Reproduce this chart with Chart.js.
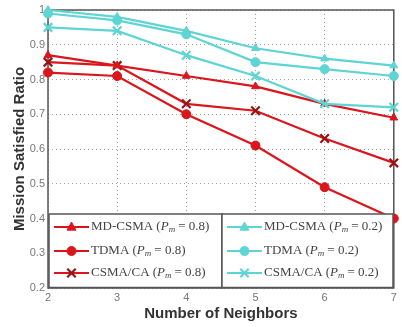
<!DOCTYPE html>
<html><head><meta charset="utf-8">
<script src="https://cdn.jsdelivr.net/npm/chart.js@4/dist/chart.umd.min.js"></script>
<style>html,body{margin:0;padding:0;background:#fff}#c{display:block}</style>
</head><body>
<canvas id="c" width="402" height="327"></canvas>
<script>
const neighbors = [2, 3, 4, 5, 6, 7];
const mdcsma08 = [0.87, 0.84, 0.81, 0.78, 0.73, 0.69];
const tdma08   = [0.82, 0.81, 0.70, 0.61, 0.49, 0.40];
const csma08   = [0.85, 0.84, 0.73, 0.71, 0.63, 0.56];
const mdcsma02 = [1.00, 0.98, 0.94, 0.89, 0.86, 0.84];
const tdma02   = [0.99, 0.97, 0.93, 0.85, 0.83, 0.81];
const csma02   = [0.95, 0.94, 0.87, 0.81, 0.73, 0.72];
const yTicks = [0.2, 0.3, 0.4, 0.5, 0.6, 0.7, 0.8, 0.9, 1];
const protocolNames = ['MD-CSMA', 'TDMA', 'CSMA/CA'];
const pmValues = ['0.8', '0.2'];

const RED = 'rgb(218,22,28)';
const CYAN = 'rgb(95,212,212)';
function ds(data, color, style, nameIdx, pmIdx) {
  return {
    label: protocolNames[nameIdx] + ' (Pm = ' + pmValues[pmIdx] + ')',
    protoName: protocolNames[nameIdx], pm: pmValues[pmIdx],
    data: neighbors.map((x, k) => ({x: x, y: data[k]})),
    borderColor: color, backgroundColor: color,
    borderWidth: 2.2, pointStyle: style, pointRadius: style === 'crossRot' ? 6 : 4.5,
    pointBorderWidth: style === 'crossRot' ? 2.2 : 1,
    pointBorderColor: style === 'crossRot' ? (pmIdx === 0 ? 'rgb(150,20,20)' : CYAN) : color,
    tension: 0, clip: false
  };
}
const datasets = [
  ds(mdcsma02, CYAN, 'triangle', 0, 1),
  ds(tdma02, CYAN, 'circle', 1, 1),
  ds(csma02, CYAN, 'crossRot', 2, 1),
  ds(mdcsma08, RED, 'triangle', 0, 0),
  ds(tdma08, RED, 'circle', 1, 0),
  ds(csma08, RED, 'crossRot', 2, 0)
];

const legendPlugin = {
  id: 'boxLegend',
  beforeDatasetsDraw(chart) {
    const ctx = chart.ctx, ca = chart.chartArea;
    ctx.save();
    ctx.strokeStyle = '#555'; ctx.lineWidth = 1.5;
    ctx.strokeRect(ca.left, ca.top, ca.right - ca.left, ca.bottom - ca.top);
    ctx.restore();
  },
  afterDatasetsDraw(chart) {
    const ctx = chart.ctx;
    const ca = chart.chartArea;
    const boxes = [
      {x0: ca.left + 1, x1: 222, idx: [3, 4, 5]},
      {x0: 222, x1: 393, idx: [0, 1, 2]}
    ];
    const top = 214, bottom = ca.bottom - 0.5;
    const rows = [227, 251, 273];
    const F = '"Liberation Serif", serif';
    ctx.save();
    boxes.forEach(b => {
      ctx.fillStyle = '#fff';
      ctx.fillRect(b.x0, top, b.x1 - b.x0, bottom - top);
      ctx.strokeStyle = '#555';
      ctx.lineWidth = 1.5;
      ctx.strokeRect(b.x0, top, b.x1 - b.x0, bottom - top);
      b.idx.forEach((di, r) => {
        const d = chart.data.datasets[di];
        const y = rows[r];
        const lx0 = b.x0 + 5, lx1 = b.x0 + 40;
        ctx.strokeStyle = d.borderColor; ctx.lineWidth = 2.2;
        ctx.beginPath(); ctx.moveTo(lx0, y); ctx.lineTo(lx1, y); ctx.stroke();
        ctx.fillStyle = d.backgroundColor; ctx.strokeStyle = d.pointBorderColor; ctx.lineWidth = d.pointBorderWidth;
        ctx.beginPath();
        const s = d.pointStyle, cx = (lx0 + lx1) / 2, rr = d.pointRadius;
        if (s === 'circle') { ctx.arc(cx, y, rr, 0, Math.PI * 2); ctx.fill(); ctx.stroke(); }
        else if (s === 'triangle') { ctx.moveTo(cx, y - rr * 1.1); ctx.lineTo(cx + rr, y + rr * 0.7); ctx.lineTo(cx - rr, y + rr * 0.7); ctx.closePath(); ctx.fill(); ctx.stroke(); }
        else { const q = rr * 0.7; ctx.moveTo(cx - q, y - q); ctx.lineTo(cx + q, y + q); ctx.moveTo(cx + q, y - q); ctx.lineTo(cx - q, y + q); ctx.stroke(); }
        let tx = lx1 + 2;
        ctx.fillStyle = '#444';
        ctx.textBaseline = 'middle';
        ctx.textAlign = 'left';
        ctx.font = '13px ' + F;
        const part1 = d.protoName + ' (';
        ctx.fillText(part1, tx, y); tx += ctx.measureText(part1).width;
        ctx.font = 'italic 13px ' + F;
        ctx.fillText('P', tx, y); tx += ctx.measureText('P').width;
        ctx.font = 'italic 9px ' + F;
        ctx.fillText('m', tx, y + 3); tx += ctx.measureText('m').width + 3;
        ctx.font = '13px ' + F;
        const part2 = '= ' + d.pm + ')';
        ctx.fillText(part2, tx, y);
      });
    });
    ctx.restore();
  }
};

new Chart(document.getElementById('c'), {
  type: 'line',
  data: { datasets: datasets },
  plugins: [legendPlugin],
  options: {
    responsive: false, animation: false,
    layout: { padding: { top: 10, right: 1, left: 0, bottom: 0 } },
    plugins: { legend: { display: false }, tooltip: { enabled: false } },
    scales: {
      x: {
        type: 'linear', min: 2, max: 7,
        afterBuildTicks: s => { s.ticks = neighbors.map(v => ({value: v})); },
        grid: { color: 'rgba(130,130,130,0.75)', drawTicks: false },
        border: { display: false, dash: [1, 3] },
        ticks: { color: '#777', font: { size: 11, family: 'Liberation Sans' }, padding: 3, maxRotation: 0 },
        title: { display: true, text: 'Number of Neighbors', color: '#333', font: { size: 15, weight: 'bold', family: 'Liberation Sans' }, padding: { top: 2, bottom: 4 } },
        afterFit: s => { s.height = 39; }
      },
      y: {
        type: 'linear', min: 0.2, max: 1,
        afterBuildTicks: s => { s.ticks = yTicks.map(v => ({value: v})); },
        grid: { color: 'rgba(130,130,130,0.75)', drawTicks: false },
        border: { display: false, dash: [1, 3] },
        ticks: { color: '#777', font: { size: 11, family: 'Liberation Sans' }, padding: 3, callback: v => String(Math.round(v * 10) / 10) },
        title: { display: true, text: 'Mission Satisfied Ratio', color: '#333', font: { size: 15, weight: 'bold', family: 'Liberation Sans' }, padding: { top: 11, bottom: 1 } },
        afterFit: s => { s.width = 48; }
      }
    }
  }
});
</script>
</body></html>
